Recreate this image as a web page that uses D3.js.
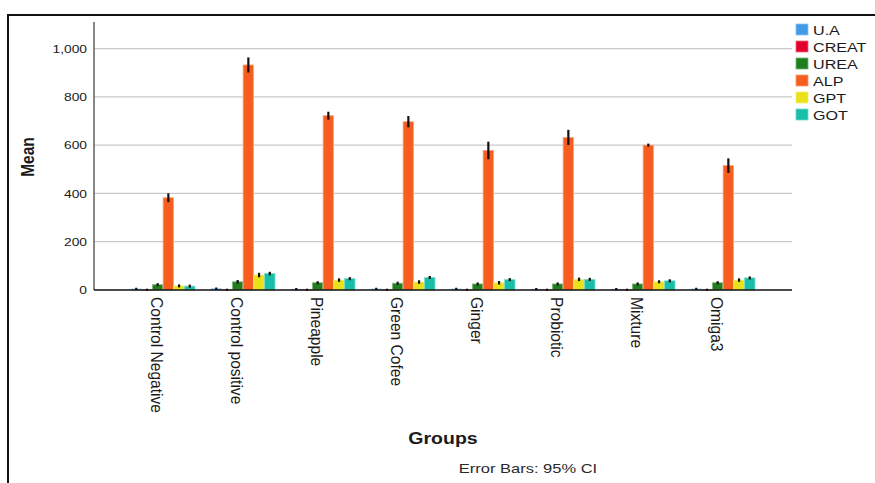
<!DOCTYPE html>
<html>
<head>
<meta charset="utf-8">
<script src="https://cdn.jsdelivr.net/npm/d3@7"></script>
<style>
  html, body { margin: 0; padding: 0; background: #ffffff; }
  svg { display: block; }
  text { font-family: "Liberation Sans", Arial, sans-serif; fill: #1a1a1a; }
</style>
</head>
<body>
<svg id="chart" width="875" height="483"></svg>
<script>
// Group means with 95% CI half-widths, one array per measure
const groups = ["Control Negative", "Control positive", "Pineapple", "Green Cofee", "Ginger", "Probiotic", "Mixture", "Omiga3"];
const seriesNames = ["U.A", "CREAT", "UREA", "ALP", "GPT", "GOT"];
const seriesColors = ["#3f9be8", "#e3002a", "#1f7f1f", "#f75d1e", "#ebe11a", "#18bfa8"];

const uaMean    = [4, 5, 3, 4, 4, 3, 3, 4];
const creatMean = [1, 1, 1, 1, 1, 1, 1, 1];
const ureaMean  = [22, 34, 30, 28, 25, 25, 25, 30];
const alpMean   = [382, 932, 722, 697, 578, 632, 600, 515];
const gptMean   = [17, 62, 41, 33, 30, 44, 34, 41];
const gotMean   = [16, 68, 47, 52, 43, 44, 38, 50];

const uaErr    = [2, 2, 2, 2, 2, 2, 2, 2];
const creatErr = [1, 1, 1, 1, 1, 1, 1, 1];
const ureaErr  = [3, 4, 3, 3, 3, 3, 3, 3];
const alpErr   = [15, 28, 13, 20, 33, 28, 3, 27];
const gptErr   = [3, 6, 4, 4, 4, 4, 3, 4];
const gotErr   = [3, 4, 3, 3, 3, 3, 3, 3];

const yTicks = [0, 200, 400, 600, 800, 1000];

const means = [uaMean, creatMean, ureaMean, alpMean, gptMean, gotMean];
const errs  = [uaErr, creatErr, ureaErr, alpErr, gptErr, gotErr];

// flat records for drawing
const records = [];
groups.forEach((g, gi) => {
  seriesNames.forEach((s, si) => {
    records.push({ group: g, series: s, value: means[si][gi], err: errs[si][gi], color: seriesColors[si] });
  });
});

const SX = 1.2; // horizontal glyph stretch used throughout the chart text
const svg = d3.select("#chart");

// outer frame
svg.append("path")
  .attr("d", "M8,490 L8,15 L880,15")
  .attr("fill", "none").attr("stroke", "#111").attr("stroke-width", 2);

const plot = { left: 94, right: 792, top: 22, bottom: 290 };

const x = d3.scaleBand().domain(groups).range([plot.left, plot.right])
  .paddingInner(0).paddingOuter(0.3625);
const xInner = d3.scaleBand().domain(seriesNames).range([-32, 32]).paddingInner(0.02);
const y = d3.scaleLinear().domain([0, 1110]).range([plot.bottom, plot.top]);

// gridlines
svg.append("g").selectAll("line").data(yTicks.filter(t => t > 0)).join("line")
  .attr("x1", plot.left).attr("x2", plot.right)
  .attr("y1", d => y(d)).attr("y2", d => y(d))
  .attr("stroke", "#c9c9c9").attr("stroke-width", 1.3);

// y axis
const yAxis = svg.append("g").attr("transform", `translate(${plot.left},0)`)
  .call(d3.axisLeft(y).tickValues(yTicks).tickSize(0).tickFormat(d3.format(",")));
yAxis.select(".domain").remove();
yAxis.selectAll("text")
  .attr("x", -7 / SX)
  .attr("transform", `scale(${SX},1)`)
  .style("font-size", "11.5px")
  .style("font-family", "'Liberation Sans', Arial, sans-serif")
  .attr("fill", "#1a1a1a");
svg.append("line")
  .attr("x1", plot.left).attr("x2", plot.left)
  .attr("y1", plot.top).attr("y2", plot.bottom)
  .attr("stroke", "#6a6a6a").attr("stroke-width", 1.6);

// bars
const bars = svg.append("g");
bars.selectAll("rect").data(records).join("rect")
  .attr("x", d => x(d.group) + x.bandwidth() / 2 + xInner(d.series))
  .attr("width", xInner.bandwidth())
  .attr("y", d => y(d.value))
  .attr("height", d => y(0) - y(d.value))
  .attr("fill", d => d.color)
  .attr("stroke", d => d3.interpolateRgb(d.color, "#ffffff")(0.45))
  .attr("stroke-width", 0.8);

// error bars (95% CI)
bars.selectAll("line.err").data(records).join("line")
  .attr("class", "err")
  .attr("x1", d => x(d.group) + x.bandwidth() / 2 + xInner(d.series) + xInner.bandwidth() / 2)
  .attr("x2", d => x(d.group) + x.bandwidth() / 2 + xInner(d.series) + xInner.bandwidth() / 2)
  .attr("y1", d => y(d.value + d.err) - 0.8)
  .attr("y2", d => y(Math.max(0, d.value - d.err)) + 0.8)
  .attr("stroke", "#111").attr("stroke-width", 2.2);

// x axis line
svg.append("line")
  .attr("x1", plot.left).attr("x2", plot.right)
  .attr("y1", plot.bottom).attr("y2", plot.bottom)
  .attr("stroke", "#111").attr("stroke-width", 1.4);

// rotated group labels
svg.append("g").selectAll("text").data(groups).join("text")
  .attr("transform", d => `translate(${x(d) + x.bandwidth() / 2 - 6},297) scale(${SX},1.09) rotate(90)`)
  .attr("dy", "0.35em")
  .attr("text-anchor", "start")
  .style("font-size", "14.3px")
  .text(d => d);

// axis titles
svg.append("text")
  .attr("transform", `translate(27,157) scale(${SX},1) rotate(-90)`)
  .attr("dy", "0.35em")
  .attr("text-anchor", "middle")
  .style("font-size", "15.5px").style("font-weight", "bold")
  .text("Mean");

svg.append("text")
  .attr("transform", `translate(443,444) scale(1.22,1)`)
  .attr("text-anchor", "middle")
  .style("font-size", "16px").style("font-weight", "bold")
  .text("Groups");

svg.append("text")
  .attr("transform", `translate(528,473) scale(1.27,1)`)
  .attr("text-anchor", "middle")
  .style("font-size", "13px")
  .style("fill", "#2a2a2a")
  .text("Error Bars: 95% CI");

// legend
const legend = svg.append("g").attr("transform", "translate(796,0)");
const rows = legend.selectAll("g").data(seriesNames).join("g")
  .attr("transform", (d, i) => `translate(0,${30 + i * 17})`);
rows.append("rect")
  .attr("x", 0).attr("y", -6).attr("width", 12).attr("height", 11)
  .attr("fill", (d, i) => seriesColors[i])
  .attr("stroke", (d, i) => d3.interpolateRgb(seriesColors[i], "#ffffff")(0.4))
  .attr("stroke-width", 0.8);
rows.append("text")
  .attr("transform", `translate(17,0) scale(1.24,1)`)
  .attr("dy", "0.36em")
  .style("font-size", "13px")
  .text(d => d);
</script>
</body>
</html>
